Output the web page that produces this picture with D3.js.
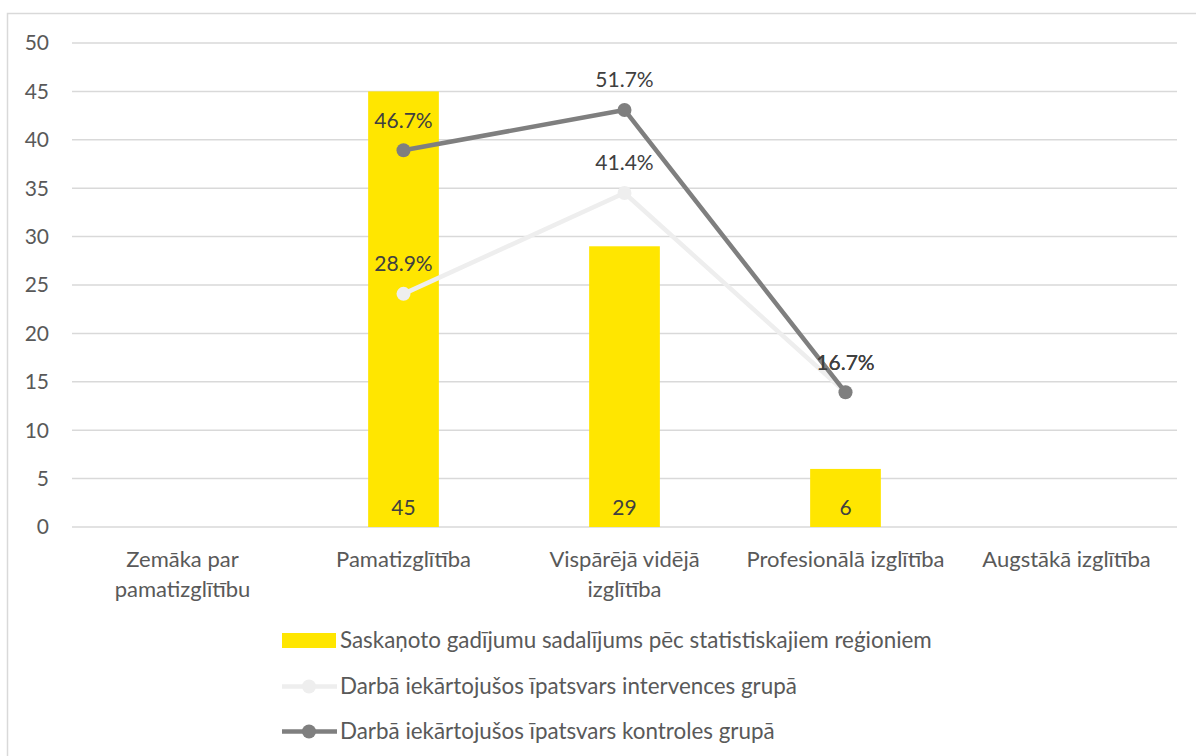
<!DOCTYPE html>
<html>
<head>
<meta charset="utf-8">
<script src="https://cdn.jsdelivr.net/npm/d3@7"></script>
<style>
  body { margin: 0; background: #fff; }
  text { font-family: Lato, "Open Sans", sans-serif; }
</style>
</head>
<body>
<div id="chart"></div>
<script>
// dati
const categories = [
  ["Zemāka par", "pamatizglītību"],
  ["Pamatizglītība"],
  ["Vispārējā vidējā", "izglītība"],
  ["Profesionālā izglītība"],
  ["Augstākā izglītība"]
];
const barValues = [null, 45, 29, 6, null];
const interventionShare = [null, 28.9, 41.4, 16.7, null];
const controlShare = [null, 46.7, 51.7, 16.7, null];
const yTicks = [0, 5, 10, 15, 20, 25, 30, 35, 40, 45, 50];
const legendLabels = [
  "Saskaņoto gadījumu sadalījums pēc statistiskajiem reģioniem",
  "Darbā iekārtojušos īpatsvars intervences grupā",
  "Darbā iekārtojušos īpatsvars kontroles grupā"
];

const W = 1196, H = 756;
const svg = d3.select("#chart").append("svg")
  .attr("width", W)
  .attr("height", H);

// bordo
svg.append("rect")
  .attr("x", 7.5).attr("y", 13.5)
  .attr("width", 1200).attr("height", 800)
  .attr("fill", "none")
  .attr("stroke", "#d9d9d9")
  .attr("stroke-width", 1.5);

const plot = { left: 72, right: 1177, top: 43, bottom: 527 };

const x = d3.scaleBand()
  .domain(d3.range(categories.length))
  .range([plot.left, plot.right])
  .paddingInner(0.68)
  .paddingOuter(0.34);

const y = d3.scaleLinear().domain([0, 50]).range([plot.bottom, plot.top]);
// asse secondario nascosto (0-60%)
const y2 = d3.scaleLinear().domain([0, 60]).range([plot.bottom, plot.top]);

// griglia
svg.append("g")
  .selectAll("line")
  .data(yTicks)
  .join("line")
  .attr("x1", plot.left).attr("x2", plot.right)
  .attr("y1", d => y(d)).attr("y2", d => y(d))
  .attr("stroke", "#d9d9d9")
  .attr("stroke-width", 1.5);

// etichette asse y
svg.append("g")
  .selectAll("text")
  .data(yTicks)
  .join("text")
  .attr("x", 49)
  .attr("y", d => y(d))
  .attr("dy", "0.35em")
  .attr("text-anchor", "end")
  .attr("fill", "#595959")
  .attr("font-size", 21)
  .text(d => d);

// barre
const barData = barValues.map((v, i) => ({ i, v })).filter(d => d.v != null);
svg.append("g")
  .selectAll("rect")
  .data(barData)
  .join("rect")
  .attr("x", d => x(d.i))
  .attr("width", x.bandwidth())
  .attr("y", d => y(d.v))
  .attr("height", d => y(0) - y(d.v))
  .attr("fill", "#ffe600");

svg.append("g")
  .selectAll("text")
  .data(barData)
  .join("text")
  .attr("x", d => x(d.i) + x.bandwidth() / 2)
  .attr("y", y(0) - 19)
  .attr("dy", "0.35em")
  .attr("text-anchor", "middle")
  .attr("fill", "#404040")
  .attr("font-size", 21)
  .text(d => d.v);

// linee
const cx = i => x(i) + x.bandwidth() / 2;
const line = d3.line()
  .defined(d => d.v != null)
  .x(d => cx(d.i))
  .y(d => y2(d.v));

function drawSeries(values, color) {
  const pts = values.map((v, i) => ({ i, v }));
  const g = svg.append("g");
  g.append("path")
    .datum(pts)
    .attr("d", line)
    .attr("fill", "none")
    .attr("stroke", color)
    .attr("stroke-width", 4.5)
    .attr("stroke-linejoin", "round");
  const valid = pts.filter(d => d.v != null);
  g.selectAll("circle")
    .data(valid)
    .join("circle")
    .attr("cx", d => cx(d.i))
    .attr("cy", d => y2(d.v))
    .attr("r", 7)
    .attr("fill", color);
  return valid;
}

const lightPts = drawSeries(interventionShare, "#eeeeee");
const darkPts = drawSeries(controlShare, "#7f7f7f");

// etichette percentuali
svg.append("g")
  .selectAll("text")
  .data(lightPts.concat(darkPts))
  .join("text")
  .attr("x", d => cx(d.i))
  .attr("y", d => y2(d.v) - 30)
  .attr("dy", "0.35em")
  .attr("text-anchor", "middle")
  .attr("fill", "#404040")
  .attr("font-size", 21)
  .text(d => d.v.toFixed(1) + "%");

// etichette categorie
const catG = svg.append("g")
  .selectAll("text")
  .data(categories)
  .join("text")
  .attr("x", (d, i) => cx(i))
  .attr("y", 559)
  .attr("text-anchor", "middle")
  .attr("fill", "#595959")
  .attr("font-size", 22);
catG.selectAll("tspan")
  .data(d => d)
  .join("tspan")
  .attr("x", function() { return d3.select(this.parentNode).attr("x"); })
  .attr("dy", (d, i) => i === 0 ? "0.35em" : 30)
  .text(d => d);

// legenda
const legendY = [640.5, 686.5, 731.5];
const lg = svg.append("g");
lg.append("rect")
  .attr("x", 282).attr("y", legendY[0] - 7.5)
  .attr("width", 54).attr("height", 15)
  .attr("fill", "#ffe600");
[["#eeeeee", 1], ["#7f7f7f", 2]].forEach(([c, k]) => {
  lg.append("line")
    .attr("x1", 282).attr("x2", 337)
    .attr("y1", legendY[k]).attr("y2", legendY[k])
    .attr("stroke", c).attr("stroke-width", 4.5);
  lg.append("circle")
    .attr("cx", 309).attr("cy", legendY[k]).attr("r", 7)
    .attr("fill", c);
});
lg.selectAll("text")
  .data(legendLabels)
  .join("text")
  .attr("x", 340)
  .attr("y", (d, i) => legendY[i])
  .attr("dy", "0.35em")
  .attr("fill", "#595959")
  .attr("font-size", 22.4)
  .text(d => d);
</script>
</body>
</html>
